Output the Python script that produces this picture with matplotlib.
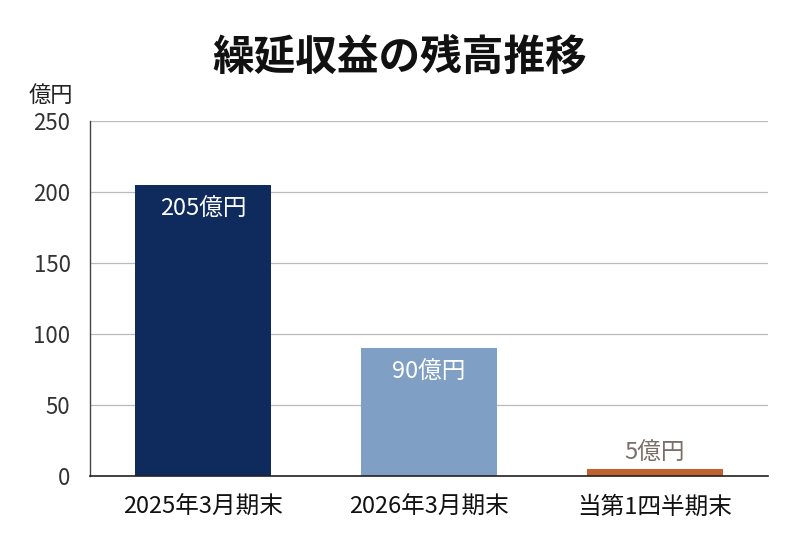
import matplotlib
matplotlib.use("Agg")
import matplotlib.pyplot as plt

plt.rcParams['font.family'] = ['Noto Sans CJK JP', 'DejaVu Sans']

# data
categories = ["2025年3月期末", "2026年3月期末", "当第1四半期末"]
values = [205, 90, 5]
value_labels = ["205億円", "90億円", "5億円"]
colors = ["#0f2a5c", "#7f9fc5", "#c0612e"]
yticks = [0, 50, 100, 150, 200, 250]

fig = plt.figure(figsize=(8, 5.36), dpi=100)
ax = fig.add_axes([0.1125, 0.112, 0.8475, 0.662])

x = range(len(categories))
bars = ax.bar(x, values, width=0.6, color=colors, zorder=3)

for i, (b, v, lab) in enumerate(zip(bars, values, value_labels)):
    cx = b.get_x() + b.get_width() / 2
    if v > 30:
        ax.text(cx, v - 9, lab, ha='center', va='top', color='white', fontsize=17, zorder=4)
    else:
        ax.text(cx, v + 3, lab, ha='center', va='bottom', color='#7a6f66', fontsize=17, zorder=4)

ax.set_xlim(-0.5, 2.5)
ax.set_ylim(0, 250)
ax.set_yticks(yticks)
ax.set_xticks(list(x))
ax.set_xticklabels(categories, fontsize=17, color='#111111')
ax.tick_params(axis='y', labelsize=16, labelcolor='#333333', length=0, pad=14)
ax.tick_params(axis='x', length=0, pad=14)

ax.yaxis.grid(True, color='#bbbbbb', linewidth=0.9, zorder=0)
for s in ['top', 'right']:
    ax.spines[s].set_visible(False)
ax.spines['left'].set_color('#444444')
ax.spines['left'].set_linewidth(1.0)
ax.spines['bottom'].set_color('#222222')
ax.spines['bottom'].set_linewidth(1.2)
ax.spines['bottom'].set_zorder(5)

fig.text(0.5, 0.893, "繰延収益の残高推移", ha='center', va='center', fontsize=30, fontweight='bold', color='#111111')
fig.text(0.036, 0.822, "億円", ha='left', va='center', fontsize=16, color='#222222')

fig.savefig("out.png", dpi=100, facecolor='white')
